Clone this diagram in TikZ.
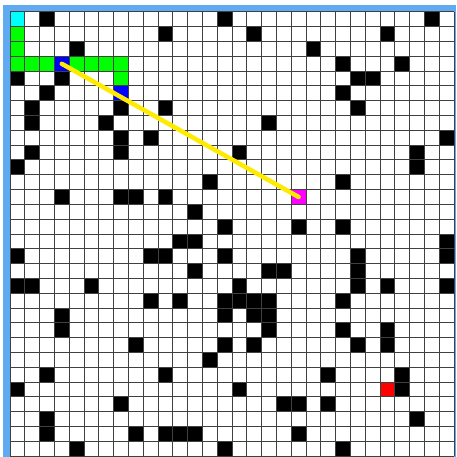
\documentclass[tikz,border=0pt]{standalone}
\usepackage{tikz}
\definecolor{FrameBlue}{RGB}{95,170,240}
\definecolor{StartCyan}{RGB}{0,255,255}
\definecolor{PathGreen}{RGB}{0,255,0}
\definecolor{TurnBlue}{RGB}{0,0,255}
\definecolor{GoalMagenta}{RGB}{255,0,255}
\definecolor{TargetRed}{RGB}{255,0,0}
\definecolor{RayYellow}{RGB}{255,235,0}

\begin{document}
\begin{tikzpicture}[x=14.8pt,y=-14.8pt,
    cellnode/.style={minimum size=14.8pt,inner sep=0pt,outer sep=0pt,anchor=north west}]
  \useasboundingbox (-10pt,12pt) rectangle (446pt,-445pt);
  \fill[white] (-10pt,12pt) rectangle (446pt,-445pt);
  \fill[FrameBlue] (-7pt,7pt) rectangle (446pt,-445pt);
  \fill[white] (0,0) rectangle (30,30);

  % walls
  \foreach \c/\r in {2/0,14/0,28/0, 10/1,16/1,25/1, 4/2,20/2, 22/3,26/3,
      0/4,3/4,23/4,24/4, 2/5,22/5, 1/6,7/6,10/6,23/6, 1/7,6/7,17/7,
      7/8,9/8,29/8, 1/9,7/9,15/9,27/9, 0/10,27/10, 13/11,22/11,
      3/12,7/12,8/12,10/12, 12/13, 14/14,19/14,22/14, 11/15,12/15,29/15,
      0/16,9/16,10/16,14/16,23/16,29/16, 12/17,17/17,18/17,23/17,
      0/18,1/18,5/18,15/18,23/18,25/18,29/18,
      9/19,11/19,14/19,15/19,16/19,17/19,22/19, 3/20,14/20,16/20,17/20,
      3/21,17/21,22/21,25/21, 8/22,14/22,16/22,23/22,25/22, 13/23,
      2/24,10/24,21/24,26/24, 0/25,15/25,26/25, 7/26,18/26,19/26,21/26,
      2/27,27/27, 2/28,8/28,10/28,11/28,12/28,19/28, 4/29,14/29,22/29}
    \fill[black] (\c,\r) rectangle ++(1,1);

  % visited path
  \foreach \c/\r in {0/1,0/2,0/3,1/3,2/3,4/3,5/3,6/3,7/3,7/4}
    \fill[PathGreen] (\c,\r) rectangle ++(1,1);
  \fill[TurnBlue] (7,5) rectangle ++(1,1);
  \fill[TargetRed] (25,25) rectangle ++(1,1);
  \node[cellnode,fill=StartCyan] (origin) at (0,0) {};
  \node[cellnode,fill=TurnBlue] (start) at (3,3) {};
  \node[cellnode,fill=GoalMagenta] (goal) at (19,12) {};

  % grid lines
  \foreach \i in {0,...,30} {
    \draw[black!75,line width=1pt] (\i,0) -- (\i,30);
    \draw[black!75,line width=1pt] (0,\i) -- (30,\i);
  }

  \draw[RayYellow,line width=4.5pt,line cap=round] (start.center) -- (goal.center);
\end{tikzpicture}
\end{document}
